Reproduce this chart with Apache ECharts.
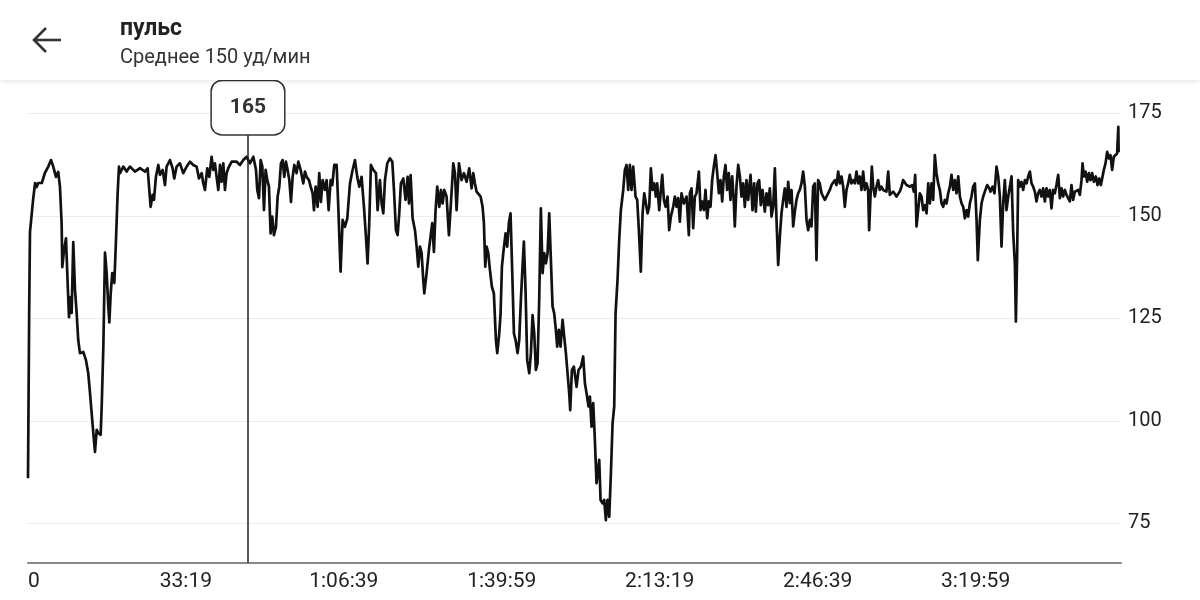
<!DOCTYPE html>
<html><head><meta charset="utf-8">
<script src="https://cdn.jsdelivr.net/npm/echarts@6/dist/echarts.min.js"></script>
<style>html,body{margin:0;padding:0;background:#fff}#c{width:1200px;height:600px}</style>
</head><body><div id="c"></div>
<script>
// Heart-rate samples: [seconds, bpm]
const seg1 = [[0,86],[15,127],[25,146],[45,150],[65,154],[90,158],[110,157],[130,158],[175,158],[215,160.5],[257,162],[291,163.6],[320,162],[354,159.5],[383,160.7],[405,157],[426,148],[434,137.5],[456,141.6],[481,144.5],[502,133.6],[519,125.3],[540,130.2],[553,126.3],[573,143.6],[595,132],[616,126.3],[636,119.7],[658,116.5],[700,116.8],[734,114.8],[763,111.6],[785,106.8],[806,101.9],[827,97],[848,92.4],[870,97.8],[890,97],[920,96.6],[933,103.4],[954,118],[975,141],[996,136],[1017,127.8],[1030,124],[1047,131],[1067,136],[1093,133.6],[1114,144],[1135,155.5],[1152,162],[1165,160.4],[1207,162],[1249,160.8],[1291,162],[1354,160.8],[1418,161.6],[1481,160.8],[1515,161.6],[1536,156.3],[1553,152.2],[1578,155.1],[1595,153.9],[1620,159.5],[1650,162.4],[1671,160],[1705,161.2],[1734,157.5],[1755,162],[1798,163.6],[1831,161.6],[1852,159.1],[1882,162],[1924,162.8],[1966,160.4],[2009,162],[2051,163.2],[2093,162.4],[2135,162],[2165,159.1],[2199,160.4],[2220,157.9],[2241,156.3],[2270,161.6],[2296,159.5],[2325,164.4],[2346,161.2],[2367,162.8],[2388,159.5],[2410,156.3],[2431,162.4],[2452,158.3],[2473,162.8],[2494,156.3],[2515,160.4],[2536,161.6],[2579,163.2],[2642,163.2],[2684,162.4]];
const seg2 = [[2726,163.6],[2768,164.4],[2811,162.8],[2853,164.4],[2887,161.2],[2903,156.3],[2925,154.3],[2946,163.6],[2967,162],[2988,151.4],[3009,161.2],[3030,158.7],[3051,157.1],[3072,145.7],[3093,149.8],[3114,145.3],[3140,147.3],[3161,154.7],[3182,157.1],[3203,162.8],[3224,163.6],[3245,159.5],[3266,163.2],[3287,161.2],[3309,158.7],[3330,153.4],[3351,159.5],[3372,162.4],[3401,160.4],[3423,163.2],[3452,161.2],[3486,157.9],[3507,160.8],[3528,159.5],[3558,158.7],[3579,157.1],[3604,155.5],[3621,151.4],[3642,157.1],[3667,152.2],[3688,160.4],[3709,153.4],[3731,158.7],[3760,156.3],[3781,158.7],[3807,151.4],[3832,158.7],[3853,157.5],[3878,162.4],[3908,162.4],[3929,152.2],[3958,136.4],[3984,149],[4013,147.3],[4043,149.4],[4077,157.9],[4106,160.8],[4140,163.6],[4169,159.5],[4195,157.1],[4224,159.5],[4254,152.2],[4279,144.9],[4300,138.4],[4321,148.2],[4342,162.4],[4372,161.2],[4406,160.4],[4427,151.4],[4456,158.7],[4478,153],[4499,150.6],[4520,158.7],[4549,162.8],[4583,164],[4613,163.2],[4634,156.3],[4659,146.5],[4680,145.3],[4701,150.6],[4722,157.9],[4752,159.1],[4781,153.9],[4807,159.5],[4824,153],[4845,159.9],[4870,149.4],[4900,146.5],[4921,142.5],[4942,137.6],[4963,142.5],[4984,140.9],[5005,134.3],[5018,131.1],[5047,136],[5077,141.7],[5102,145.7],[5119,148.2],[5140,141.2],[5161,151.4],[5182,157.1],[5208,152.2],[5229,156.3],[5250,153],[5271,156.3],[5300,154.7],[5330,145.3],[5355,153],[5385,162.8],[5406,160.4],[5427,151.4],[5457,162.8],[5490,158.7],[5520,160.4],[5554,158.3],[5587,161.6]];
const seg3 = [[5617,156.7],[5638,160.4],[5659,157.9],[5680,155.9],[5701,155.5],[5731,154.7],[5756,152.2],[5773,148.2],[5790,137.6],[5807,142.5],[5828,140.9],[5849,136.8],[5874,132.7],[5899,131.1],[5925,119.7],[5942,116.5],[5967,121.3],[5984,126.2],[6001,137.6],[6018,140.9],[6047,145.7],[6068,142.5],[6089,148.2],[6110,150.6],[6132,136],[6153,121.3],[6174,119.7],[6199,116.5],[6220,119.7],[6241,129.5],[6262,137.6],[6279,143.7],[6300,131.9],[6321,114.8],[6347,111.6],[6368,116.5],[6389,125.8],[6410,121.3],[6431,112.4],[6452,114],[6473,129.5],[6494,151.8],[6516,136],[6537,140.9],[6558,138.4],[6579,140.9],[6600,150.6],[6621,139.2],[6642,127.9],[6663,126.2],[6684,122.2],[6701,118.1],[6722,122.2],[6743,118.1],[6769,124.6],[6790,120.5],[6811,116.5],[6832,111.6],[6853,106.7],[6866,102.6],[6887,112.4],[6912,113.2],[6946,108.3],[6971,112.4],[7001,113.2],[7030,115.7],[7052,109.1],[7073,106.7],[7098,103.5],[7115,105.9],[7136,98.6],[7157,104.3],[7178,95.3],[7199,84.8],[7233,90.5],[7250,80.7],[7275,79.9],[7296,80.7],[7317,75.8],[7338,80.7],[7360,76.6],[7381,87.2],[7402,99.4],[7423,103.5],[7440,126.2],[7465,134.4],[7486,144.1],[7507,151.4],[7537,156.3],[7558,161.2],[7579,162.4],[7600,156.3],[7621,162.4],[7642,156.3],[7663,162],[7693,154.7],[7714,153.9],[7735,146.5],[7760,136.4],[7782,150.6],[7803,155.5],[7824,155.5],[7845,150.6],[7866,152.2],[7887,161.6],[7908,156.3],[7929,157.9],[7950,154.7],[7967,157.9],[7993,151.4],[8014,156.3],[8031,160],[8052,153.9],[8073,152.2],[8098,154.7],[8119,146.5],[8140,149.8],[8170,152.2],[8191,154.7],[8212,152.2],[8233,154.3],[8254,148.6],[8275,155.5],[8305,153],[8339,154.7],[8368,145.3]];
const seg4 = [[8381,155.5],[8402,156.7],[8423,147],[8444,154.7],[8465,155.5],[8495,160.8],[8516,151.4],[8537,153.5],[8558,151.4],[8579,156.3],[8600,149.4],[8621,153.5],[8642,152.2],[8663,158.7],[8684,162],[8706,164.8],[8727,160.4],[8748,155.5],[8769,158.7],[8790,153.5],[8811,159.6],[8832,162.4],[8853,156.3],[8874,160.4],[8895,153.9],[8917,159.6],[8938,153.1],[8950,147.4],[8971,157.1],[8993,162.4],[9014,159.6],[9035,154.7],[9056,157.9],[9077,152.2],[9098,158.7],[9119,153.9],[9149,160],[9174,151.4],[9195,157.9],[9216,151],[9237,157.9],[9258,158.7],[9279,152.6],[9301,156.3],[9330,151],[9351,155.5],[9372,152.6],[9393,156.7],[9415,149.8],[9436,152.2],[9457,161.6],[9478,149],[9499,138],[9520,144.9],[9541,150.6],[9562,153.9],[9583,156.7],[9604,152.2],[9626,158.3],[9647,153.1],[9668,156.3],[9689,147.4],[9710,151],[9731,153.9],[9752,155.5],[9773,156.3],[9794,157.9],[9815,160.8],[9837,157.1],[9858,149],[9879,146.5],[9900,149],[9921,147.4],[9942,157.1],[9963,157.9],[9984,139.2],[10005,158.7],[10026,157.9],[10048,155.5],[10069,154.7],[10090,153.9],[10111,154.7],[10153,156.3],[10174,157.5],[10195,157.9],[10216,158.7],[10237,157.5],[10259,160.8],[10280,157.9],[10301,159.6],[10322,157.1],[10343,152.2],[10364,156.3],[10385,157.9],[10406,160],[10427,157.9],[10448,158.7],[10470,157.9],[10491,160.8],[10512,157.9],[10533,159.6],[10554,156.3],[10575,160.8],[10596,156.3],[10617,157.9],[10638,156.3],[10651,146.5],[10668,154.7],[10685,162],[10702,157.1],[10723,154.7],[10744,157.1],[10765,158.7],[10786,156.3],[10807,157.1],[10828,156.3],[10870,155.9],[10892,160.8],[10913,155.1],[10955,155.9],[10997,154.7],[11039,155.9],[11060,157.1],[11081,158.7],[11124,157.5]];
const seg5 = [[11167,157.1],[11196,157.5],[11217,155.9],[11234,160],[11251,147.4],[11272,147],[11293,155.5],[11314,154.7],[11335,151.4],[11357,152.6],[11378,150.6],[11399,157.9],[11420,153],[11441,157.9],[11462,153.9],[11483,164.8],[11504,160.4],[11525,157.9],[11546,156.3],[11568,153],[11589,152.2],[11610,153.9],[11631,153],[11652,155.5],[11673,157.1],[11694,160],[11715,156.3],[11736,158.7],[11757,155.5],[11779,159.6],[11800,154.7],[11821,153],[11842,152.2],[11863,149.4],[11884,151.4],[11905,149.8],[11926,153],[11947,154.7],[11968,157.1],[11990,157.9],[12011,149],[12027,139.2],[12053,149],[12074,153],[12095,154.7],[12116,155.9],[12146,157.5],[12171,156.7],[12188,155.9],[12213,157.1],[12238,155.5],[12264,162],[12285,159.6],[12306,154.7],[12327,142.5],[12348,153],[12369,158.7],[12390,151.4],[12412,154.7],[12433,157.1],[12454,159.6],[12475,145.7],[12496,138.4],[12509,124.2],[12525,140.8],[12538,158.7],[12559,157.1],[12580,158.3],[12601,156.3],[12623,158.7],[12644,157.9],[12665,159.6],[12686,160.8],[12707,157.9],[12728,157.1],[12749,155.9],[12770,153.5],[12791,155.5],[12812,156.3],[12834,154.7],[12855,156.7],[12876,153.5],[12897,156.7],[12918,154.7],[12939,156.3],[12960,151.8],[12981,156.3],[13002,155.5],[13023,157.5],[13045,160],[13066,154.3],[13087,156.7],[13108,154.7],[13129,156.3],[13150,155.1],[13171,155.5],[13192,153.5],[13213,157.5],[13234,153.9],[13256,155.9],[13277,155.5],[13298,156.3],[13319,155.1],[13340,158.7],[13353,162.8],[13369,159.6],[13391,160.8],[13412,158.3],[13433,160.4],[13454,158.7],[13475,160.4],[13496,158.3],[13521,159.6],[13542,157.5],[13564,159.1],[13585,157.5],[13606,157.5],[13623,161.2],[13644,162.8],[13665,165.6],[13686,164],[13707,164.8],[13728,161.2],[13749,164.4],[13770,164],[13791,165.2],[13806,171.7],[13810,165.5]];

const xTickValues = [0, 1999, 3999, 5999, 7999, 9999, 11999];
const xTickLabels = ['0', '33:19', '1:06:39', '1:39:59', '2:13:19', '2:46:39', '3:19:59'];
const yTickValues = [75, 100, 125, 150, 175];
const cursorTime = 2785;
const cursorValue = 165;
const titleText = 'пульс';
const subtitleText = 'Среднее 150 уд/мин';

const pulse = seg1.concat(seg2, seg3, seg4, seg5);
const FONT = 'Roboto, "Noto Sans", sans-serif';

const chart = echarts.init(document.getElementById('c'), null, {renderer: 'canvas'});
chart.setOption({
  animation: false,
  backgroundColor: '#fff',
  grid: {left: 28, right: 79, top: 113.3, bottom: 37.3, containLabel: false},
  xAxis: {
    type: 'value', min: 0, max: 13840,
    axisLine: {show: true, lineStyle: {color: '#8a8a8a', width: 2}},
    axisTick: {show: false},
    splitLine: {show: false},
    axisLabel: {
      customValues: xTickValues,
      formatter: v => { const i = xTickValues.indexOf(v); return i >= 0 ? xTickLabels[i] : ''; },
      color: '#222', fontSize: 21, fontFamily: FONT, margin: 9,
      alignMinLabel: 'left', showMinLabel: true, showMaxLabel: true
    }
  },
  yAxis: {
    type: 'value', position: 'right', min: 65.4, max: 175,
    axisLine: {show: false},
    axisTick: {show: false, customValues: yTickValues},
    splitLine: {show: true, lineStyle: {color: '#ececec', width: 1}},
    axisLabel: {customValues: yTickValues, color: '#222', fontSize: 20, fontFamily: FONT, margin: 7, align: 'left'}
  },
  series: [{
    type: 'line', data: pulse, showSymbol: false, symbol: 'none',
    lineStyle: {color: '#111', width: 2.7, join: 'round'},
    z: 3,
    markLine: {
      silent: true, symbol: 'none', animation: false,
      lineStyle: {color: '#222', width: 1.5, type: 'solid'},
      label: {
        show: true, position: 'end', distance: 0,
        formatter: String(cursorValue),
        fontSize: 21, fontWeight: 'bold', color: '#333', fontFamily: FONT,
        backgroundColor: '#fff', borderColor: '#333', borderWidth: 1.5, borderRadius: 10,
        padding: [16, 18, 16, 18], lineHeight: 21
      },
      data: [[{coord: [cursorTime, 65.4]}, {coord: [cursorTime, 169.9]}]]
    }
  }],
  graphic: [
    {type: 'rect', shape: {x: 0, y: 0, width: 1200, height: 80}, style: {fill: '#fff', shadowBlur: 5, shadowColor: 'rgba(0,0,0,0.12)', shadowOffsetY: 1}, z: 10},
    {type: 'polyline', shape: {points: [[34, 40], [61, 40]]}, style: {stroke: '#333', lineWidth: 2.6, fill: null}, z: 11},
    {type: 'polyline', shape: {points: [[46, 28], [34, 40], [46, 52]]}, style: {stroke: '#333', lineWidth: 2.6, fill: null, lineJoin: 'miter'}, z: 11},
    {type: 'text', x: 120, y: 29, style: {text: titleText, font: 'bold 23px ' + FONT, fill: '#222', verticalAlign: 'middle'}, z: 11},
    {type: 'text', x: 120, y: 58, style: {text: subtitleText, font: '20px ' + FONT, fill: '#333', verticalAlign: 'middle'}, z: 11}
  ]
});
</script></body></html>
